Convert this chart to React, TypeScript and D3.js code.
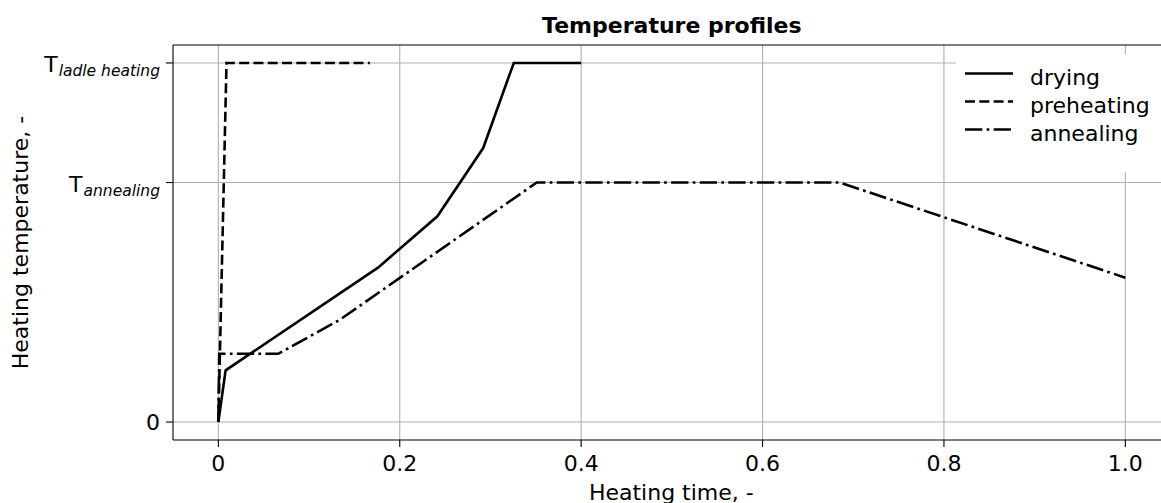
import React from "react";
import * as d3 from "d3";

// ---- data ----
const T_LADLE = 1.0;
const T_ANNEAL = 0.667;

const dryingX = [0, 0.008, 0.176, 0.2415, 0.292, 0.3257, 0.4];
const dryingY = [0, 0.144, 0.43, 0.573, 0.763, 1.0, 1.0];

const preheatX = [0, 0.009, 0.167];
const preheatY = [0, 1.0, 1.0];

const annealX = [0, 0.001, 0.066, 0.134, 0.351, 0.685, 1.0];
const annealY = [0, 0.19, 0.19, 0.285, 0.667, 0.667, 0.402];

const xTicks = [0, 0.2, 0.4, 0.6, 0.8, 1.0];
const xTickLabels = ["0", "0.2", "0.4", "0.6", "0.8", "1.0"];
const yTicks = [0, T_ANNEAL, T_LADLE];
const yTickSubs = ["", "annealing", "ladle heating"];

const seriesNames = ["drying", "preheating", "annealing"];

const W = 1161;
const H = 503;
const FONT = "'DejaVu Sans', sans-serif";
const LW = 2.6;
const DASHED = "10,4.3";
const DASHDOT = "17.3,4.3,2.7,4.3";

export default function App() {
  const x = d3.scaleLinear().domain([-0.05, 1.05]).range([173, 1170.7]);
  const y = d3.scaleLinear().domain([-0.05, 1.05]).range([440, 45]);
  const line = d3
    .line<[number, number]>()
    .x((d) => x(d[0]))
    .y((d) => y(d[1]));
  const zip = (a: number[], b: number[]) => a.map((v, i) => [v, b[i]] as [number, number]);

  const series = [
    { name: seriesNames[0], d: line(zip(dryingX, dryingY)), dash: undefined as string | undefined },
    { name: seriesNames[1], d: line(zip(preheatX, preheatY)), dash: DASHED },
    { name: seriesNames[2], d: line(zip(annealX, annealY)), dash: DASHDOT },
  ];

  const [x0, x1] = x.range();
  const [yb, yt] = y.range();

  return (
    <svg
      width={W}
      height={H}
      style={{ position: "absolute", left: 0, top: 0, background: "#fff" }}
      fontFamily={FONT}
    >
      <rect x={0} y={0} width={W} height={H} fill="#fff" />
      {/* grid */}
      <g stroke="#b0b0b0" strokeWidth={1.1}>
        {xTicks.map((t) => (
          <line key={"gx" + t} x1={x(t)} x2={x(t)} y1={yb} y2={yt} />
        ))}
        {yTicks.map((t) => (
          <line key={"gy" + t} x1={x0} x2={x1} y1={y(t)} y2={y(t)} />
        ))}
      </g>
      {/* data */}
      <g fill="none" stroke="#000" strokeWidth={LW} strokeLinejoin="miter">
        {series.map((s) => (
          <path key={s.name} d={s.d || ""} strokeDasharray={s.dash} />
        ))}
      </g>
      {/* spines */}
      <g stroke="#000" strokeWidth={1.1} fill="none">
        <line x1={x0} x2={x0} y1={yb} y2={yt} />
        <line x1={x0} x2={x1} y1={yb} y2={yb} />
        <line x1={x0} x2={x1} y1={yt} y2={yt} />
        <line x1={x1} x2={x1} y1={yb} y2={yt} />
      </g>
      {/* x ticks */}
      <g>
        {xTicks.map((t, i) => (
          <g key={"xt" + t}>
            <line x1={x(t)} x2={x(t)} y1={yb} y2={yb + 7} stroke="#000" strokeWidth={1.1} />
            <text x={x(t)} y={471} fontSize={22} textAnchor="middle" fill="#000">
              {xTickLabels[i]}
            </text>
          </g>
        ))}
      </g>
      {/* y ticks */}
      <g>
        {yTicks.map((t, i) => (
          <g key={"yt" + t}>
            <line x1={x0 - 7} x2={x0} y1={y(t)} y2={y(t)} stroke="#000" strokeWidth={1.1} />
            {yTickSubs[i] === "" ? (
              <text x={160} y={y(t) + 8} fontSize={22} textAnchor="end" fill="#000">
                0
              </text>
            ) : (
              <text x={160} y={y(t) + 9.5} fontSize={22} textAnchor="end" fill="#000">
                T
                <tspan fontSize={15.5} fontStyle="italic" dy={3.5} dx={1}>
                  {yTickSubs[i]}
                </tspan>
              </text>
            )}
          </g>
        ))}
      </g>
      {/* axis labels */}
      <text x={(x0 + x1) / 2 - 0.5} y={500} fontSize={22} textAnchor="middle" fill="#000">
        Heating time, -
      </text>
      <text
        transform={`translate(28.3, ${(yb + yt) / 2}) rotate(-90)`}
        fontSize={22}
        textAnchor="middle"
        fill="#000"
      >
        Heating temperature, -
      </text>
      {/* title */}
      <text x={(x0 + x1) / 2} y={33} fontSize={22} fontWeight="bold" textAnchor="middle" fill="#000">
        Temperature profiles
      </text>
      {/* legend */}
      <g>
        <rect x={956} y={54} width={220} height={118} fill="#fff" />
        {series.map((s, i) => {
          const base = 85 + i * 28;
          return (
            <g key={"lg" + s.name}>
              <line
                x1={965}
                x2={1013}
                y1={base - 11.5}
                y2={base - 11.5}
                stroke="#000"
                strokeWidth={LW}
                strokeDasharray={s.dash}
              />
              <text x={1030} y={base} fontSize={22} fill="#000">
                {s.name}
              </text>
            </g>
          );
        })}
      </g>
    </svg>
  );
}
